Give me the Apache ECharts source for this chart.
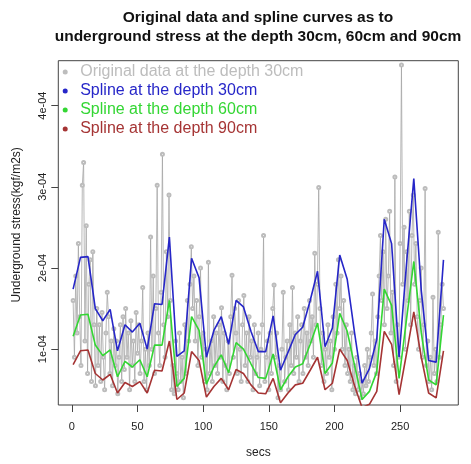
<!DOCTYPE html>
<html>
<head>
<meta charset="utf-8">
<script src="https://cdn.jsdelivr.net/npm/echarts@6/dist/echarts.min.js"></script>
<style>
  html, body { margin: 0; padding: 0; background: #fff; }
  #chart { width: 471px; height: 464px; }
</style>
</head>
<body>
<div id="chart"></div>
<script>
// values in units of 1e-04 kgf/m2s
const UNIT = 1e-4

// original data at 30cm, one reading per second (secs 1..283)
const original30 = [
  1.6, 0.9, 1.9, 1.2, 2.3, 1.4, 0.8, 3.02, 3.30, 1.1,
  2.52, 0.7, 1.8, 2.1, 0.6, 2.2, 1.3, 0.55, 1.5, 0.8,
  1.3, 0.6, 1.45, 0.9, 0.5, 1.2, 1.7, 1.4, 0.7, 1.1,
  0.55, 1.25, 0.8, 1.1, 0.45, 0.9, 1.3, 0.6, 1.4, 0.75,
  1.5, 0.9, 1.2, 0.5, 1.35, 0.8, 1.1, 0.6, 1.45, 0.95,
  1.3, 0.7, 1.1, 1.76, 0.6, 1.0, 0.5, 1.2, 0.8, 2.38,
  1.0, 1.9, 0.7, 1.5, 3.02, 1.2, 0.8, 1.7, 3.40, 1.3,
  0.9, 2.2, 1.4, 2.9, 1.6, 0.5, 0.8, 0.45, 1.1, 0.7,
  0.5, 1.2, 0.6, 0.9, 0.4, 1.3, 0.7, 1.6, 1.1, 1.8,
  2.26, 1.5, 1.9, 1.1, 1.6, 0.8, 1.4, 2.0, 0.9, 1.2,
  0.6, 1.0, 0.5, 2.07, 0.7, 1.1, 0.6, 1.4, 0.8, 1.2,
  0.7, 1.3, 0.9, 1.51, 0.6, 1.2, 0.8, 0.5, 1.1, 0.7,
  1.4, 1.91, 0.9, 1.5, 1.2, 0.7, 1.6, 1.0, 0.6, 1.3,
  1.66, 0.8, 1.2, 0.6, 1.4, 0.9, 1.1, 0.5, 1.3, 0.7,
  0.9, 1.2, 0.55, 1.0, 1.3, 2.40, 0.6, 0.9, 1.1, 0.5,
  1.2, 0.7, 1.5, 1.79, 0.9, 1.2, 0.4, 0.8, 0.5, 1.0,
  1.70, 0.6, 0.9, 1.1, 0.5, 1.3, 0.8, 1.76, 0.7, 1.2,
  0.9, 1.4, 0.6, 1.1, 1.3, 0.7, 1.5, 0.9, 1.2, 0.8,
  1.6, 1.1, 1.4, 0.9, 2.18, 1.3, 1.8, 2.99, 1.5, 0.8,
  1.2, 0.6, 1.0, 0.7, 1.3, 0.9, 1.1, 0.5, 1.4, 1.0,
  1.8, 1.2, 2.1, 1.5, 1.9, 1.0, 1.6, 0.8, 1.3, 0.7,
  1.0, 0.6, 1.2, 0.5, 0.8, 0.45, 0.9, 0.5, 0.7, 0.4,
  0.6, 0.45, 0.8, 0.55, 1.0, 0.6, 0.9, 1.2, 1.68, 0.8,
  1.1, 0.7, 1.4, 1.9, 2.4, 1.6, 2.2, 1.3, 2.6, 1.5,
  1.9, 2.7, 1.2, 1.7, 0.8, 3.12, 0.6, 1.3, 0.9, 2.3,
  4.50, 1.8, 2.5, 1.0, 2.2, 1.6, 2.7, 1.3, 2.4, 2.9,
  1.8, 2.3, 1.4, 1.0, 1.6, 2.0, 0.9, 1.3, 2.98, 0.8,
  1.1, 0.6, 0.9, 0.5, 1.64, 0.7, 1.0, 0.6, 2.44, 0.9,
  1.3, 1.8, 1.5
]

// spline knots (secs)
const knotSecs = [
  1, 6.6, 12.3, 17.9, 23.6, 29.2, 34.8, 40.5, 46.1, 51.8,
  57.4, 63, 68.7, 74.3, 80, 85.6, 91.2, 96.9, 102.5, 108.2,
  113.8, 119.4, 125.1, 130.7, 136.4, 142, 147.6, 153.3, 158.9, 164.6,
  170.2, 175.8, 181.5, 187.1, 192.8, 198.4, 204, 209.7, 215.3, 221,
  226.6, 232.2, 237.9, 243.5, 249.2, 254.8, 260.4, 266.1, 271.7, 277.4,
  283
]
const spline30 = [
  1.74, 2.13, 2.14, 1.50, 1.35, 1.49, 0.98, 1.30, 1.21, 1.32,
  1.00, 1.56, 1.55, 2.38, 0.91, 0.98, 2.12, 1.88, 0.90, 1.23,
  1.40, 1.06, 1.60, 1.52, 1.22, 0.97, 0.97, 1.41, 0.74, 0.96,
  1.18, 1.27, 1.60, 1.96, 1.03, 1.26, 2.16, 1.86, 1.20, 0.58,
  0.76, 1.12, 2.60, 2.30, 0.90, 2.04, 3.10, 1.72, 0.86, 0.84,
  2.10
]
const spline60 = [
  1.16, 1.42, 1.43, 1.05, 0.92, 0.99, 0.66, 0.85, 0.78, 0.87,
  0.66, 1.05, 1.05, 1.60, 0.54, 0.64, 1.40, 1.23, 0.57, 0.78,
  0.93, 0.71, 1.08, 1.00, 0.82, 0.65, 0.64, 0.94, 0.50, 0.66,
  0.78, 0.82, 1.06, 1.32, 0.70, 0.83, 1.44, 1.22, 0.80, 0.38,
  0.48, 0.72, 1.74, 1.54, 0.64, 1.36, 2.08, 1.20, 0.62, 0.56,
  1.42
]
const spline90 = [
  0.81, 0.98, 0.99, 0.70, 0.62, 0.69, 0.46, 0.59, 0.54, 0.60,
  0.46, 0.74, 0.73, 1.10, 0.38, 0.46, 0.97, 0.86, 0.41, 0.54,
  0.64, 0.50, 0.75, 0.70, 0.56, 0.46, 0.45, 0.64, 0.34, 0.46,
  0.56, 0.58, 0.74, 0.90, 0.50, 0.58, 1.00, 0.86, 0.55, 0.28,
  0.32, 0.48, 1.22, 1.06, 0.44, 0.94, 1.46, 0.90, 0.46, 0.40,
  0.98
]

const xTicks = [0, 50, 100, 150, 200, 250]
const yTicks = [1, 2, 3, 4]

const names = [
  'Original data at the depth 30cm',
  'Spline at the depth 30cm',
  'Spline at the depth 60cm',
  'Spline at the depth 90cm'
]
const colors = ['#bdbdbd', '#2626c8', '#33d633', '#a53434']

const pairs = (xs, ys) => ys.map((v, i) => [xs[i], v * UNIT])
const originalPts = original30.map((v, i) => [i + 1, v * UNIT])

const chart = echarts.init(document.getElementById('chart'))
const font = 'Liberation Sans, Arial, Helvetica, sans-serif'

chart.setOption({
  animation: false,
  textStyle: { fontFamily: font },
  title: {
    text: 'Original data and spline curves as to\nunderground stress at the depth 30cm, 60cm and 90cm',
    left: 258,
    top: 8,
    padding: 0,
    textAlign: 'center',
    textStyle: { fontSize: 15.5, fontWeight: 'bold', color: '#111', lineHeight: 19, fontFamily: font }
  },
  legend: {
    orient: 'vertical',
    left: 62.7,
    top: 64,
    padding: 0,
    itemGap: 3,
    itemWidth: 20,
    itemHeight: 5,
    textStyle: { fontSize: 16, fontFamily: font },
    data: names.map((n, i) => ({
      name: n,
      icon: 'circle',
      itemStyle: { color: colors[i], borderWidth: 0 },
      textStyle: { color: colors[i] }
    }))
  },
  grid: {
    left: 58.3, right: 12.7, top: 60.7, bottom: 50,
    show: true, borderColor: '#444', borderWidth: 1
  },
  xAxis: {
    type: 'value',
    min: -10.28,
    max: 294.28,
    name: 'secs',
    nameLocation: 'middle',
    nameGap: 42,
    nameTextStyle: { fontSize: 12, color: '#222' },
    axisLine: { show: false, onZero: false },
    splitLine: { show: false },
    axisTick: { show: true, inside: false, length: 7, customValues: xTicks, lineStyle: { color: '#444' } },
    axisLabel: { fontSize: 11, color: '#222', margin: 16, customValues: xTicks }
  },
  yAxis: {
    type: 'value',
    min: 0.312 * UNIT,
    max: 4.553 * UNIT,
    name: 'Underground stress(kgf/m2s)',
    nameLocation: 'middle',
    nameGap: 36,
    nameTextStyle: { fontSize: 12, color: '#222', padding: [0, 0, 0, 16] },
    axisLine: { show: false, onZero: false },
    splitLine: { show: false },
    axisTick: { show: true, inside: false, length: 7, customValues: yTicks.map(v => v * UNIT), lineStyle: { color: '#444' } },
    axisLabel: {
      fontSize: 11, color: '#222', margin: 10, rotate: 90,
      customValues: yTicks.map(v => v * UNIT),
      formatter: v => Math.round(v / UNIT) + 'e-04'
    }
  },
  series: [
    {
      name: names[0],
      type: 'line',
      data: originalPts,
      symbol: 'emptyCircle',
      symbolSize: 3,
      itemStyle: { color: '#bcbcbc', borderWidth: 0.8 },
      lineStyle: { color: '#a6a6a6', width: 0.8 },
      z: 1
    },
    {
      name: names[1], type: 'line', data: pairs(knotSecs, spline30),
      showSymbol: false, lineStyle: { color: colors[1], width: 1.6 }, itemStyle: { color: colors[1] }, z: 2
    },
    {
      name: names[2], type: 'line', data: pairs(knotSecs, spline60),
      showSymbol: false, lineStyle: { color: colors[2], width: 1.6 }, itemStyle: { color: colors[2] }, z: 3
    },
    {
      name: names[3], type: 'line', data: pairs(knotSecs, spline90),
      showSymbol: false, lineStyle: { color: colors[3], width: 1.6 }, itemStyle: { color: colors[3] }, z: 4
    }
  ]
})
</script>
</body>
</html>
